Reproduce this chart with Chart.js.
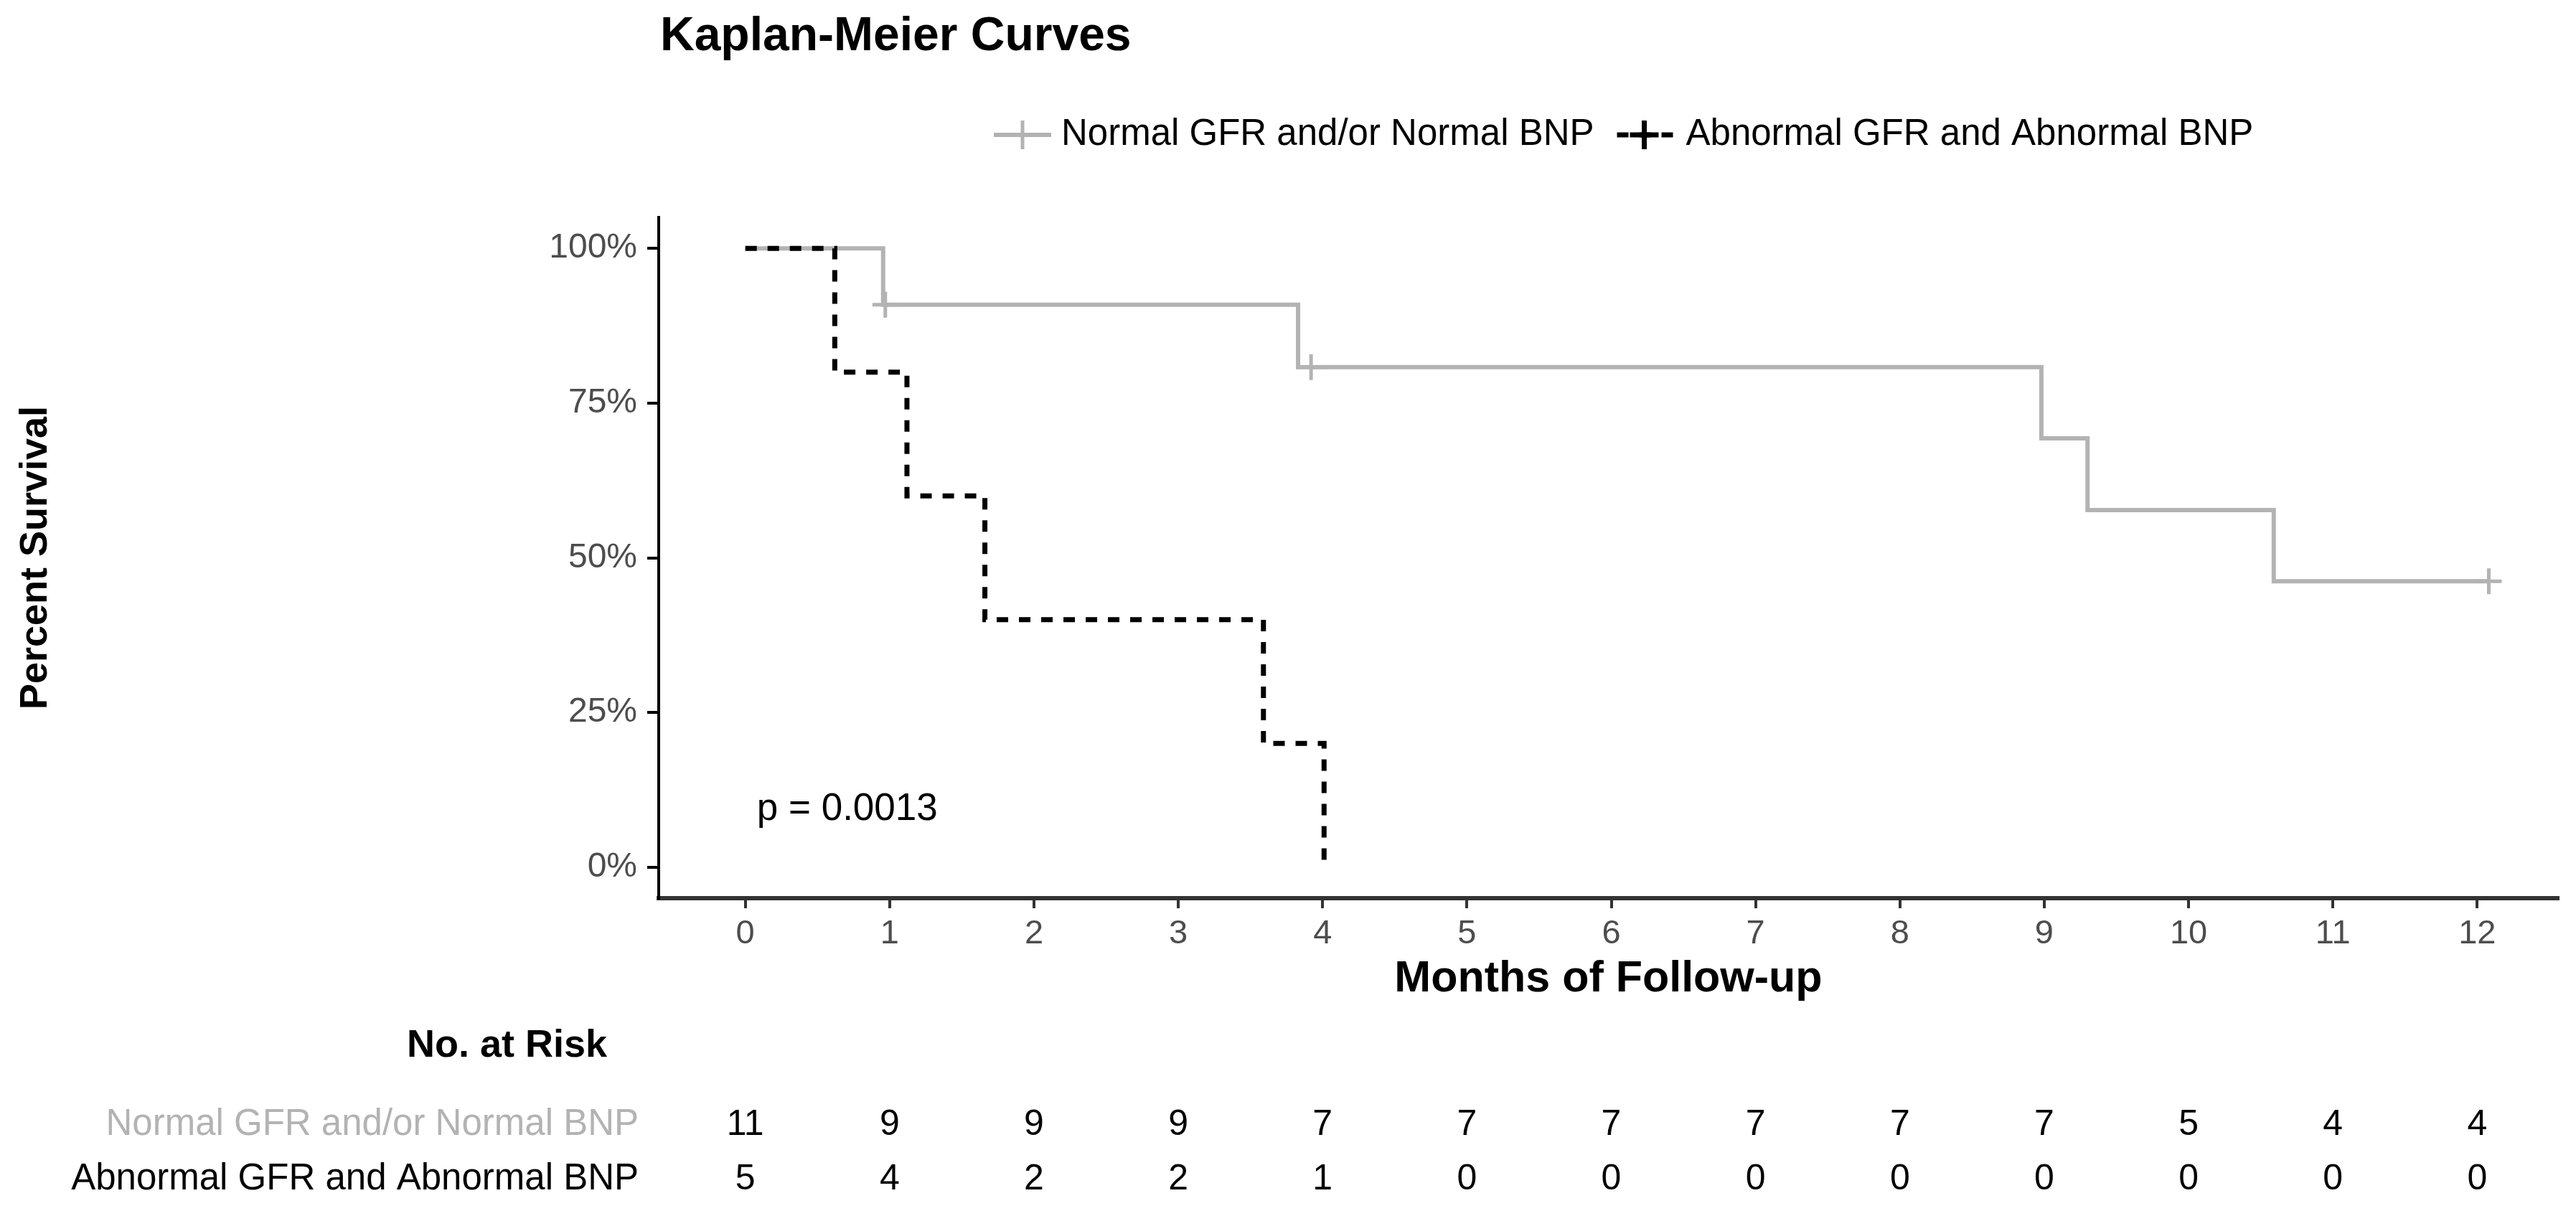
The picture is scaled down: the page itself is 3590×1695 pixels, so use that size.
<!DOCTYPE html>
<html>
<head>
<meta charset="utf-8">
<title>Kaplan-Meier Curves</title>
<script src="https://cdn.jsdelivr.net/npm/chart.js@4.4.1/dist/chart.umd.min.js"></script>
<style>
  html, body { margin: 0; padding: 0; background: #fff; }
  #wrap { width: 3590px; height: 1695px; }
</style>
</head>
<body>
<div id="wrap"><canvas id="kmChart" width="3590" height="1695"></canvas></div>
<script>
// values
const chartTitle = "Kaplan-Meier Curves";
const groupNames = ["Normal GFR and/or Normal BNP", "Abnormal GFR and Abnormal BNP"];
const months = [0, 1, 2, 3, 4, 5, 6, 7, 8, 9, 10, 11, 12];
const yTickValues = [0, 25, 50, 75, 100];

const normalTimes = [0, 0.955, 3.83, 8.98, 9.30, 10.59, 12.08];
const normalSurv = [100, 90.9, 80.8, 69.3, 57.7, 46.2, 46.2];
const normalCensorTimes = [0.97, 3.92, 12.08];
const normalCensorSurv = [90.9, 80.8, 46.2];

const abnormalTimes = [0, 0.62, 1.12, 1.66, 3.59, 4.01];
const abnormalSurv = [100, 80, 60, 40, 20, 0];

const normalAtRisk = [11, 9, 9, 9, 7, 7, 7, 7, 7, 7, 5, 4, 4];
const abnormalAtRisk = [5, 4, 2, 2, 1, 0, 0, 0, 0, 0, 0, 0, 0];

const pValueText = "p = 0.0013";

const FONT = '"Liberation Sans", Arial, sans-serif';
const GREY = "#b3b3b3";
const BLACK = "#000000";
const TICK_GREY = "#4d4d4d";
const DASH = [16, 15];

const toPoints = (xs, ys) => xs.map((x, i) => ({ x: x, y: ys[i] }));

function drawCross(ctx, cx, cy, r, color, lw) {
    ctx.save();
    ctx.strokeStyle = color;
    ctx.lineWidth = lw;
    ctx.setLineDash([]);
    ctx.beginPath();
    ctx.moveTo(cx - r, cy); ctx.lineTo(cx + r, cy);
    ctx.moveTo(cx, cy - r); ctx.lineTo(cx, cy + r);
    ctx.stroke();
    ctx.restore();
}

const overlay = {
    id: "overlay",
    afterDraw(chart) {
        const ctx = chart.ctx;
        const xs = chart.scales.x;
        const ys = chart.scales.y;
        ctx.save();

        // title
        ctx.fillStyle = BLACK;
        ctx.textAlign = "left";
        ctx.textBaseline = "middle";
        ctx.font = "bold 66px " + FONT;
        ctx.fillText(chartTitle, 920, 52);

        // legend
        const legY = 188;
        ctx.font = "51px " + FONT;
        let x0 = 1385;
        ctx.strokeStyle = GREY; ctx.lineWidth = 6; ctx.setLineDash([]);
        ctx.beginPath(); ctx.moveTo(x0, legY); ctx.lineTo(x0 + 80, legY); ctx.stroke();
        drawCross(ctx, x0 + 40, legY, 20, GREY, 5);
        ctx.fillStyle = BLACK;
        ctx.fillText(groupNames[0], x0 + 94, legY);
        x0 = x0 + 94 + ctx.measureText(groupNames[0]).width + 32;
        ctx.strokeStyle = BLACK; ctx.lineWidth = 7; ctx.setLineDash(DASH);
        ctx.beginPath(); ctx.moveTo(x0, legY); ctx.lineTo(x0 + 82, legY); ctx.stroke();
        drawCross(ctx, x0 + 38, legY, 20, BLACK, 7);
        ctx.fillText(groupNames[1], x0 + 96, legY);

        // p-value
        ctx.font = "53px " + FONT;
        ctx.fillText(pValueText, xs.getPixelForValue(0.08), ys.getPixelForValue(9.3));

        // risk table
        ctx.textAlign = "right";
        ctx.font = "bold 54px " + FONT;
        ctx.fillText("No. at Risk", 846, 1458);
        ctx.font = "51px " + FONT;
        ctx.fillStyle = GREY;
        ctx.fillText(groupNames[0], 890, 1568);
        ctx.fillStyle = BLACK;
        ctx.fillText(groupNames[1], 890, 1644);
        ctx.textAlign = "center";
        ctx.font = "50px " + FONT;
        months.forEach((m, i) => {
            const px = xs.getPixelForValue(m);
            ctx.fillText(String(normalAtRisk[i]), px, 1568);
            ctx.fillText(String(abnormalAtRisk[i]), px, 1644);
        });

        ctx.restore();
    }
};

const ctx = document.getElementById("kmChart");

new Chart(ctx, {
    type: "line",
    data: {
        datasets: [
            {
                label: groupNames[1],
                data: toPoints(abnormalTimes, abnormalSurv),
                borderColor: BLACK,
                borderWidth: 7,
                borderDash: DASH,
                stepped: true,
                pointRadius: 0,
                fill: false,
                order: 0
            },
            {
                label: groupNames[0] + " censored",
                data: toPoints(normalCensorTimes, normalCensorSurv),
                showLine: false,
                pointStyle: "cross",
                pointRadius: 18,
                pointBorderWidth: 5,
                pointBorderColor: GREY,
                borderColor: GREY,
                order: 1
            },
            {
                label: groupNames[0],
                data: toPoints(normalTimes, normalSurv),
                borderColor: GREY,
                borderWidth: 6,
                stepped: true,
                pointRadius: 0,
                fill: false,
                order: 2
            }
        ]
    },
    options: {
        responsive: false,
        devicePixelRatio: 1,
        animation: false,
        layout: { padding: { left: 0, top: 303, right: 25, bottom: 293 } },
        plugins: {
            legend: { display: false },
            tooltip: { enabled: false }
        },
        scales: {
            x: {
                type: "linear",
                min: -0.6,
                max: 12.56,
                afterBuildTicks: s => { s.ticks = months.map(v => ({ value: v })); },
                afterFit: s => { s.height = 150; },
                grid: { drawOnChartArea: false, drawTicks: true, tickLength: 14, tickColor: "#333", lineWidth: 4 },
                border: { display: true, color: "#333", width: 6 },
                ticks: { color: TICK_GREY, font: { family: FONT, size: 47 }, padding: 8, maxRotation: 0, autoSkip: false },
                title: { display: true, text: "Months of Follow-up", color: BLACK, font: { family: FONT, size: 61, weight: "bold" }, padding: { top: 0, bottom: 0 } }
            },
            y: {
                type: "linear",
                min: -5,
                max: 105,
                afterBuildTicks: s => { s.ticks = yTickValues.map(v => ({ value: v })); },
                afterFit: s => { s.width = 918; },
                grid: { drawOnChartArea: false, drawTicks: true, tickLength: 16, tickColor: BLACK, lineWidth: 4 },
                border: { display: true, color: BLACK, width: 4 },
                ticks: { callback: v => v + "%", color: TICK_GREY, font: { family: FONT, size: 48 }, padding: 14 },
                title: { display: true, text: "Percent Survival", color: BLACK, font: { family: FONT, size: 54, weight: "bold" }, padding: { top: 18, bottom: 0 } }
            }
        }
    },
    plugins: [overlay]
});
</script>
</body>
</html>
